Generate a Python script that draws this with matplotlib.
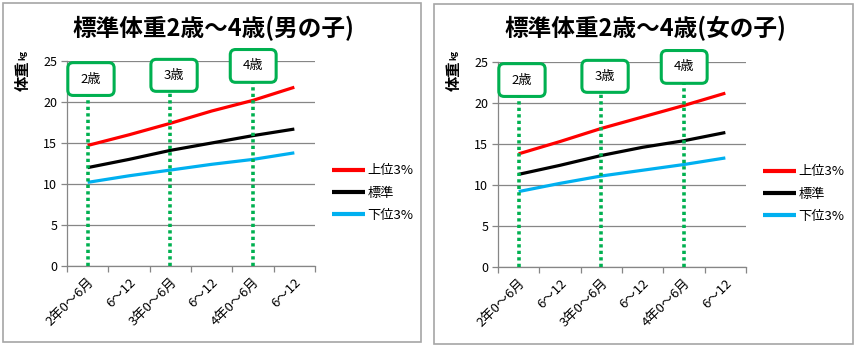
import matplotlib
matplotlib.use("Agg")
import matplotlib.pyplot as plt
from matplotlib.patches import FancyBboxPatch, Rectangle

plt.rcParams['font.family'] = ['Noto Sans CJK JP', 'DejaVu Sans']

# age groups (half-year steps)
periods = ["2年0～6月", "6～12", "3年0～6月", "6～12", "4年0～6月", "6～12"]
series_names = ["上位3%", "標準", "下位3%"]

boys_upper = [14.7, 16.0, 17.4, 18.9, 20.2, 21.8]
boys_std = [12.0, 13.0, 14.1, 15.0, 15.9, 16.7]
boys_lower = [10.2, 11.0, 11.7, 12.4, 13.0, 13.8]

girls_upper = [13.8, 15.3, 16.9, 18.3, 19.7, 21.2]
girls_std = [11.3, 12.4, 13.6, 14.6, 15.4, 16.4]
girls_lower = [9.2, 10.2, 11.1, 11.8, 12.5, 13.3]

# age markers: (label, category index)
age_marks = [("2歳", 0), ("3歳", 2), ("4歳", 4)]

colors = ["#FF0000", "#000000", "#00B0F0"]
green = "#00B050"
grid_gray = "#868686"

fig = plt.figure(figsize=(8.57, 3.46), dpi=100)
W, H = 857, 346


def frac_box(x0, y0, x1, y1):
    # pixel box (top-left origin) -> figure fraction rect
    return [x0 / W, (H - y1) / H, (x1 - x0) / W, (y1 - y0) / H]


def draw_panel(px_left, px_top, title, upper, std, lower, frame):
    # outer frame of the panel
    fig.add_artist(Rectangle((frame[0] / W, (H - frame[3]) / H),
                             (frame[2] - frame[0]) / W, (frame[3] - frame[1]) / H,
                             transform=fig.transFigure, fill=False,
                             ec="#A6A6A6", lw=1.2))

    ax = fig.add_axes(frac_box(px_left, px_top, px_left + 248, px_top + 205))
    x = list(range(len(periods)))
    for vals, name, c in zip([upper, std, lower], series_names, colors):
        ax.plot(x, vals, color=c, lw=2.3, label=name, solid_capstyle="butt", zorder=3)

    ax.set_xlim(-0.5, len(periods) - 0.5)
    ax.set_ylim(0, 25)
    ax.set_yticks([0, 5, 10, 15, 20, 25])
    ax.yaxis.grid(True, color=grid_gray, lw=0.9)
    ax.set_axisbelow(True)
    for s in ["top", "right"]:
        ax.spines[s].set_visible(False)
    for s in ["left", "bottom"]:
        ax.spines[s].set_color(grid_gray)
        ax.spines[s].set_linewidth(0.9)

    ax.set_xticks(x)
    ax.set_xticklabels(periods, rotation=45, ha="right", rotation_mode="anchor", fontsize=9.5)
    ax.set_xticks([i - 0.5 for i in range(len(periods) + 1)], minor=True)
    ax.tick_params(axis="x", which="major", length=0, pad=7)
    ax.tick_params(axis="x", which="minor", length=4, color=grid_gray, width=0.9)
    ax.tick_params(axis="y", length=4, color=grid_gray, width=0.9, labelsize=9, pad=3)

    # age marker boxes with dotted guide lines
    box_spans = {0: (-0.48, 0.64, 20.8, 24.8), 2: (-0.47, 0.65, 21.3, 25.2), 4: (-0.55, 0.56, 22.4, 26.4)}
    for label, idx in age_marks:
        dx0, dx1, y0, y1 = box_spans[idx]
        ax.plot([idx, idx], [0, y0], color=green, lw=2.6, ls=(0, (0.9, 0.9)),
                zorder=4, clip_on=False)
        box = FancyBboxPatch((idx + dx0, y0), dx1 - dx0, y1 - y0,
                             boxstyle="round,pad=0,rounding_size=0.13",
                             mutation_aspect=5.0, fc="white", ec=green, lw=2.2,
                             clip_on=False, zorder=5)
        ax.add_patch(box)
        ax.text(idx + (dx0 + dx1) / 2, (y0 + y1) / 2, label, ha="center", va="center",
                fontsize=9.5, zorder=6, clip_on=False)

    leg = ax.legend(loc="center left", bbox_to_anchor=(1.02, 0.355), frameon=False,
                    fontsize=9.5, handlelength=2.5, handletextpad=0.2, labelspacing=0.7)
    for line in leg.get_lines():
        line.set_linewidth(3.0)

    # title and y label
    fig.text((frame[0] + frame[2]) / 2 / W + 0.002, 1 - 28 / H, title, ha="center", va="center",
             fontsize=17, fontweight="bold")
    ylx = (px_left - 44) / W
    fig.text(ylx, 1 - 91 / H, "体重", rotation=90, ha="center", va="bottom",
             fontsize=11, fontweight="bold")
    fig.text(ylx, 1 - 60 / H, "kg", rotation=90, ha="center", va="bottom",
             fontsize=6, fontweight="bold")
    return ax


draw_panel(67, 61, "標準体重2歳～4歳(男の子)", boys_upper, boys_std, boys_lower,
           (3, 3, 421, 342))
draw_panel(498, 62, "標準体重2歳～4歳(女の子)", girls_upper, girls_std, girls_lower,
           (434, 4, 853, 344))

fig.savefig("out.png", dpi=100, facecolor="white")
